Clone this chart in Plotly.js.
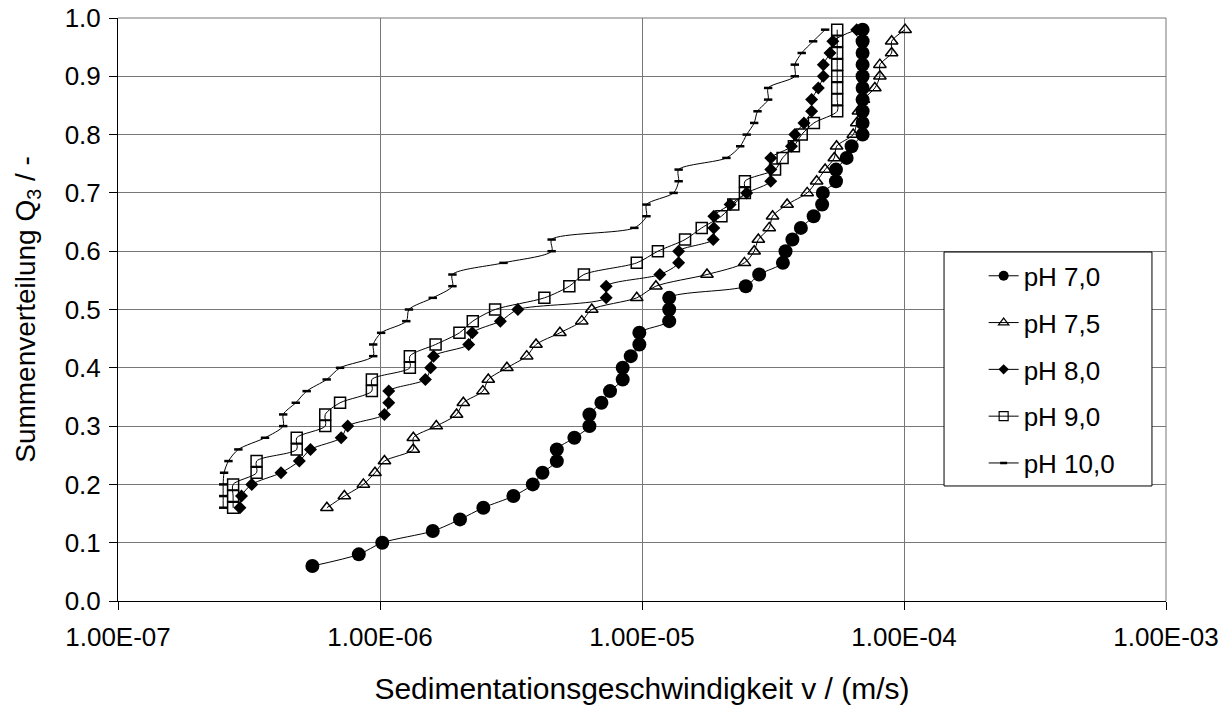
<!DOCTYPE html>
<html>
<head>
<meta charset="utf-8">
<script src="https://cdn.plot.ly/plotly-3.0.1.min.js"></script>
<style>html,body{margin:0;padding:0;background:#fff;}#chart{width:1231px;height:705px;}</style>
</head>
<body>
<div id="chart"></div>
<script>
// Series names
const seriesNames = ['pH 7,0', 'pH 7,5', 'pH 8,0', 'pH 9,0', 'pH 10,0'];

// pH 7,0
const q70 = [0.06,0.08,0.10,0.12,0.14,0.16,0.18,0.20,0.22,0.24,0.26,0.28,0.30,0.32,0.34,0.36,0.38,0.40,0.42,0.44,0.46,0.48,0.50,0.52,0.54,0.56,0.58,0.60,0.62,0.64,0.66,0.68,0.70,0.72,0.74,0.76,0.78,0.80,0.82,0.84,0.86,0.88,0.90,0.92,0.94,0.96,0.98];
const v70 = [5.52e-7,8.3e-7,1.02e-6,1.59e-6,2.02e-6,2.48e-6,3.23e-6,3.83e-6,4.17e-6,4.73e-6,4.73e-6,5.52e-6,6.3e-6,6.3e-6,7.0e-6,7.55e-6,8.44e-6,8.44e-6,9.06e-6,9.77e-6,9.77e-6,1.27e-5,1.27e-5,1.27e-5,2.49e-5,2.80e-5,3.45e-5,3.53e-5,3.75e-5,4.04e-5,4.52e-5,4.87e-5,4.9e-5,5.5e-5,5.5e-5,6.04e-5,6.31e-5,6.95e-5,6.95e-5,6.95e-5,6.95e-5,6.95e-5,6.95e-5,6.95e-5,6.95e-5,6.95e-5,6.95e-5];

// pH 7,5
const q75 = [0.16,0.18,0.20,0.22,0.24,0.26,0.28,0.30,0.32,0.34,0.36,0.38,0.40,0.42,0.44,0.46,0.48,0.50,0.52,0.54,0.56,0.58,0.60,0.62,0.64,0.66,0.68,0.70,0.72,0.74,0.76,0.78,0.80,0.82,0.84,0.86,0.88,0.90,0.92,0.94,0.96,0.98];
const v75 = [6.27e-7,7.31e-7,8.64e-7,9.57e-7,1.04e-6,1.34e-6,1.34e-6,1.64e-6,1.96e-6,2.08e-6,2.47e-6,2.59e-6,3.05e-6,3.63e-6,3.94e-6,4.86e-6,5.89e-6,6.43e-6,9.55e-6,1.13e-5,1.77e-5,2.46e-5,2.68e-5,2.78e-5,3.06e-5,3.15e-5,3.58e-5,4.27e-5,4.64e-5,5.0e-5,5.42e-5,5.53e-5,6.4e-5,6.6e-5,6.7e-5,7.0e-5,7.74e-5,8.09e-5,8.09e-5,8.97e-5,8.97e-5,1.01e-4];

// pH 8,0
const q80 = [0.16,0.18,0.20,0.22,0.24,0.26,0.28,0.30,0.32,0.34,0.36,0.38,0.40,0.42,0.44,0.46,0.48,0.50,0.52,0.54,0.56,0.58,0.60,0.62,0.64,0.66,0.68,0.70,0.72,0.74,0.76,0.78,0.80,0.82,0.84,0.86,0.88,0.90,0.92,0.94,0.96,0.98];
const v80 = [2.92e-7,2.96e-7,3.24e-7,4.19e-7,4.92e-7,5.43e-7,7.11e-7,7.53e-7,1.04e-6,1.08e-6,1.08e-6,1.49e-6,1.56e-6,1.60e-6,2.18e-6,2.25e-6,2.88e-6,3.36e-6,7.30e-6,7.30e-6,1.17e-5,1.38e-5,1.38e-5,1.87e-5,1.88e-5,1.88e-5,2.17e-5,2.51e-5,3.10e-5,3.10e-5,3.10e-5,3.72e-5,3.83e-5,4.15e-5,4.44e-5,4.44e-5,4.71e-5,4.92e-5,4.92e-5,5.22e-5,5.35e-5,6.6e-5];

// pH 9,0
const q90 = [0.16,0.18,0.20,0.22,0.24,0.26,0.28,0.30,0.32,0.34,0.36,0.38,0.40,0.42,0.44,0.46,0.48,0.50,0.52,0.54,0.56,0.58,0.60,0.62,0.64,0.66,0.68,0.70,0.72,0.74,0.76,0.78,0.80,0.82,0.84,0.86,0.88,0.90,0.92,0.94,0.96,0.98];
const v90 = [2.75e-7,2.75e-7,2.75e-7,3.38e-7,3.38e-7,4.81e-7,4.81e-7,6.18e-7,6.18e-7,7.04e-7,9.31e-7,9.31e-7,1.30e-6,1.30e-6,1.63e-6,2.01e-6,2.26e-6,2.75e-6,4.24e-6,5.28e-6,6.0e-6,9.55e-6,1.15e-5,1.46e-5,1.69e-5,2.01e-5,2.23e-5,2.47e-5,2.47e-5,3.22e-5,3.44e-5,3.80e-5,4.07e-5,4.53e-5,5.56e-5,5.56e-5,5.56e-5,5.56e-5,5.56e-5,5.56e-5,5.56e-5,5.56e-5];

// pH 10,0
const q100 = [0.16,0.18,0.20,0.22,0.24,0.26,0.28,0.30,0.32,0.34,0.36,0.38,0.40,0.42,0.44,0.46,0.48,0.50,0.52,0.54,0.56,0.58,0.60,0.62,0.64,0.66,0.68,0.70,0.72,0.74,0.76,0.78,0.80,0.82,0.84,0.86,0.88,0.90,0.92,0.94,0.96,0.98];
const v100 = [2.52e-7,2.52e-7,2.52e-7,2.54e-7,2.64e-7,2.88e-7,3.64e-7,4.27e-7,4.27e-7,4.77e-7,5.25e-7,6.26e-7,7.04e-7,9.42e-7,9.42e-7,1.01e-6,1.26e-6,1.29e-6,1.59e-6,1.89e-6,1.89e-6,2.96e-6,4.52e-6,4.52e-6,9.35e-6,1.04e-5,1.04e-5,1.32e-5,1.38e-5,1.38e-5,2.10e-5,2.37e-5,2.51e-5,2.68e-5,2.76e-5,3.03e-5,3.03e-5,3.83e-5,3.83e-5,4.07e-5,4.50e-5,5.0e-5];

// Axis ticks
const xTickVals = [1e-7, 1e-6, 1e-5, 1e-4, 1e-3];
const xTickText = ['1.00E-07', '1.00E-06', '1.00E-05', '1.00E-04', '1.00E-03'];
const yTickVals = [0, 0.1, 0.2, 0.3, 0.4, 0.5, 0.6, 0.7, 0.8, 0.9, 1.0];
const yTickText = ['0.0', '0.1', '0.2', '0.3', '0.4', '0.5', '0.6', '0.7', '0.8', '0.9', '1.0'];

const FONT = 'Liberation Sans, Arial, sans-serif';
const lineStyle = {color: '#000', width: 1, shape: 'spline', smoothing: 0.8};

const markerStyles = [
  {symbol: 'circle', size: 14, color: '#000', line: {width: 0}},
  {symbol: 'triangle-up-open', size: 11, color: '#000', line: {width: 1.5, color: '#000'}},
  {symbol: 'diamond', size: 10, color: '#000', line: {width: 0}},
  {symbol: 'square-open', size: 11, color: '#000', line: {width: 1.5, color: '#000'}},
  {symbol: 'line-ew', size: 6, color: '#000', line: {width: 2.5, color: '#000'}}
];
const legendMarkers = [
  {symbol: 'circle', size: 10, color: '#000', line: {width: 0}},
  {symbol: 'triangle-up-open', size: 9, color: '#000', line: {width: 1.2, color: '#000'}},
  {symbol: 'diamond', size: 8, color: '#000', line: {width: 0}},
  {symbol: 'square-open', size: 9, color: '#000', line: {width: 1.2, color: '#000'}},
  {symbol: 'line-ew', size: 5, color: '#000', line: {width: 2.5, color: '#000'}}
];

const xs = [v70, v75, v80, v90, v100];
const ys = [q70, q75, q80, q90, q100];

const traces = [];
for (let i = 0; i < 5; i++) {
  traces.push({
    type: 'scatter', mode: 'lines+markers', x: xs[i], y: ys[i],
    name: seriesNames[i], showlegend: false,
    line: lineStyle, marker: markerStyles[i], cliponaxis: false
  });
}
for (let i = 0; i < 5; i++) {
  traces.push({
    type: 'scatter', mode: 'lines+markers', x: [null], y: [null],
    name: seriesNames[i], legendgroup: 'g' + i, showlegend: true,
    line: {color: '#000', width: 1}, marker: legendMarkers[i]
  });
}

const layout = {
  width: 1231, height: 705,
  margin: {l: 118, r: 65, t: 18, b: 104},
  paper_bgcolor: '#fff', plot_bgcolor: '#fff',
  font: {family: FONT, color: '#000', size: 26},
  showlegend: true,
  xaxis: {
    type: 'log', range: [-7, -3],
    tickvals: xTickVals, ticktext: xTickText,
    showgrid: true, gridcolor: '#777', gridwidth: 1,
    showline: true, linecolor: '#000', linewidth: 1,
    ticks: 'outside', ticklen: 8, tickcolor: '#000', tickwidth: 1,
    ticklabelstandoff: 5,
    tickfont: {family: FONT, size: 26, color: '#000'},
    zeroline: false,
    title: {text: 'Sedimentationsgeschwindigkeit v / (m/s)', font: {family: FONT, size: 30, color: '#000'}, standoff: 26}
  },
  yaxis: {
    range: [0, 1], tickvals: yTickVals, ticktext: yTickText,
    showgrid: true, gridcolor: '#777', gridwidth: 1,
    showline: true, linecolor: '#000', linewidth: 1,
    ticks: 'outside', ticklen: 8, tickcolor: '#000', tickwidth: 1,
    ticklabelstandoff: 3,
    tickfont: {family: FONT, size: 26, color: '#000'},
    zeroline: false,
    title: {text: 'Summenverteilung Q<sub>3</sub> / -', font: {family: FONT, size: 28, color: '#000'}, standoff: 20}
  },
  legend: {
    x: 0.826, y: 0.598, xanchor: 'left', yanchor: 'top',
    bgcolor: 'rgba(0,0,0,0)', borderwidth: 0,
    font: {family: FONT, size: 26, color: '#000'},
    tracegroupgap: 10, itemwidth: 30
  },
  shapes: [
    {type: 'rect', xref: 'paper', yref: 'paper', x0: 0.7882, x1: 0.9866, y0: 0.1973, y1: 0.5986,
     fillcolor: '#fff', line: {color: '#000', width: 1}, layer: 'above'},
    {type: 'line', xref: 'paper', yref: 'paper', x0: 0, x1: 1, y0: 1, y1: 1, line: {color: '#777', width: 1}, layer: 'below'},
    {type: 'line', xref: 'paper', yref: 'paper', x0: 1, x1: 1, y0: 0, y1: 1, line: {color: '#777', width: 1}, layer: 'below'}
  ]
};

Plotly.newPlot('chart', traces, layout, {displayModeBar: false, staticPlot: true});
</script>
</body>
</html>
